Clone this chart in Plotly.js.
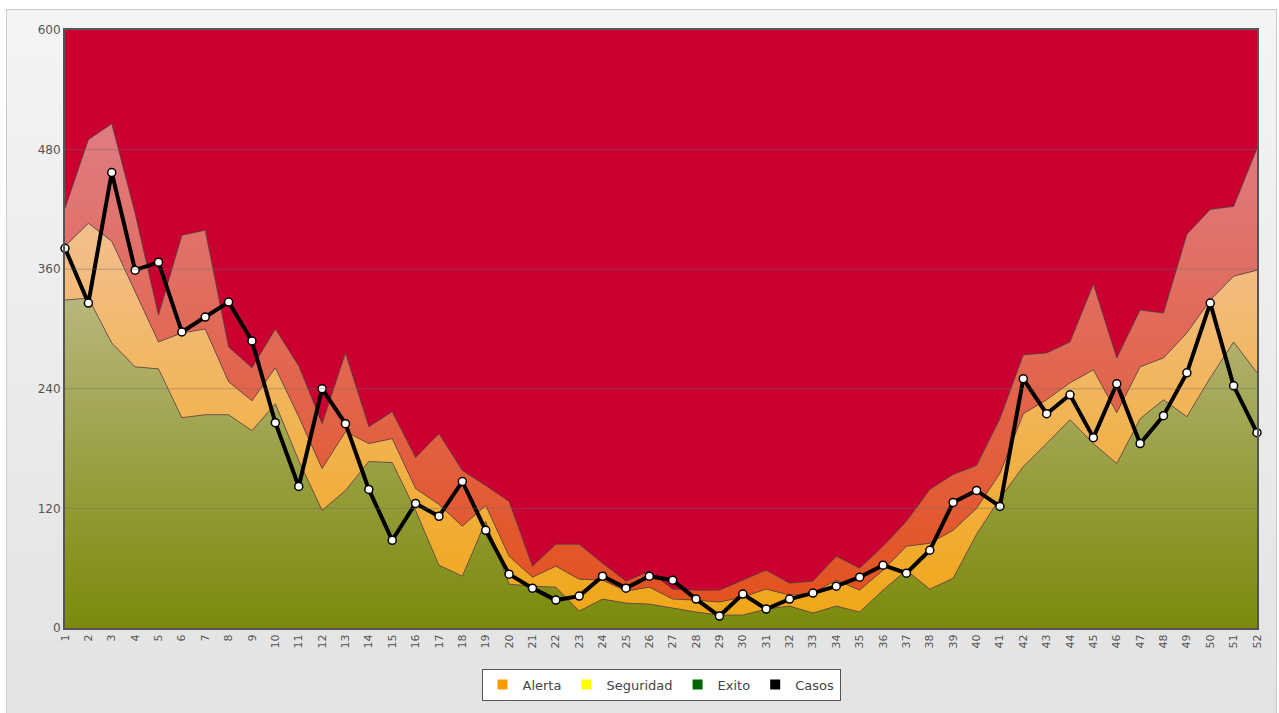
<!DOCTYPE html>
<html>
<head>
<meta charset="utf-8">
<script src="https://cdn.plot.ly/plotly-3.0.1.min.js"></script>
<style>
  html, body { margin:0; padding:0; background:#ffffff; }
  #bg { position:absolute; left:6px; top:9px; width:1271px; height:710px; border:1px solid #cccccc;
        background:linear-gradient(#f4f4f4, #e3e3e3); box-sizing:border-box; }
  #chart { position:absolute; left:0; top:0; width:1279px; height:713px; }
</style>
</head>
<body>
<div id="bg"></div>
<div id="chart"></div>
<script>
// Weeks (categories)
const weeks = [1,2,3,4,5,6,7,8,9,10,11,12,13,14,15,16,17,18,19,20,21,22,23,24,25,26,
               27,28,29,30,31,32,33,34,35,36,37,38,39,40,41,42,43,44,45,46,47,48,49,50,51,52];

// Upper limit of the "Exito" zone (green)
const exito = [329,331,286,262,260,211,214,214,198,225,168,118,138,167,166,118,63,52,107,44,
               42,41,17,29,25,24,20,16,13,13,19,22,15,22,16,38,58,39,50,94,
               130,162,185,209,185,165,210,229,212,251,287,256];

// Upper limit of the "Seguridad" zone (orange)
const seguridad = [383,406,388,337,287,296,300,247,228,261,212,160,197,185,190,140,124,102,123,72,
                   51,62,49,48,37,41,29,28,26,31,39,33,35,48,38,58,82,85,98,120,
                   155,215,229,246,259,216,262,271,296,329,353,359];

// Upper limit of the "Alerta" zone (red-orange)
const alerta = [421,490,506,416,314,394,399,282,261,300,263,205,276,202,217,171,195,158,143,127,
                62,84,84,65,47,57,39,38,38,48,58,45,47,72,60,82,107,139,154,163,
                210,274,276,287,345,271,319,316,395,420,423,481];

// Observed cases
const casos = [381,326,457,359,367,297,312,327,288,206,142,240,205,139,88,125,112,147,98,54,
               40,28,32,52,40,52,48,29,12,34,19,29,35,42,51,63,55,78,126,138,
               122,250,215,234,191,245,185,213,256,326,243,196];

const yTicks = [0,120,240,360,480,600];

const legendNames = ['Alerta','Seguridad','Exito','Casos'];
const legendColors = ['#ff9900','#ffff00','#006600','#000000'];

const edge = {color:'rgba(70,70,70,0.75)', width:1};

const traces = [
  {
    x: weeks, y: exito, type:'scatter', mode:'lines', line: edge,
    fill:'tozeroy',
    fillgradient:{type:'vertical', start:0, stop:340,
                  colorscale:[[0,'#7b8a0b'],[1,'#bbb77f']]},
    showlegend:false, hoverinfo:'skip'
  },
  {
    x: weeks, y: seguridad, type:'scatter', mode:'lines', line: edge,
    fill:'tonexty',
    fillgradient:{type:'vertical', start:0, stop:410,
                  colorscale:[[0,'#f0a615'],[1,'#f3c08f']]},
    showlegend:false, hoverinfo:'skip'
  },
  {
    x: weeks, y: alerta, type:'scatter', mode:'lines', line: edge,
    fill:'tonexty',
    fillgradient:{type:'vertical', start:0, stop:510,
                  colorscale:[[0,'#e3501a'],[1,'#e07c82']]},
    showlegend:false, hoverinfo:'skip'
  },
  {
    x: weeks, y: casos, type:'scatter', mode:'lines+markers',
    line:{color:'#000000', width:4},
    marker:{color:'#ffffff', size:8, line:{color:'#000000', width:1.5}},
    cliponaxis:false, showlegend:false
  }
];

legendNames.forEach((n,i) => {
  traces.push({
    x:[null], y:[null], type:'scatter', mode:'markers', name:n,
    marker:{symbol:'square', size:10, color:legendColors[i]},
    showlegend:true
  });
});

const gridShapes = yTicks.filter(v => v > 0 && v < 600).map(v => ({
  type:'line', xref:'paper', x0:0, x1:1, yref:'y', y0:v, y1:v,
  line:{color:'rgba(110,110,110,0.45)', width:1}, layer:'above'
}));

const layout = {
  width:1279, height:713,
  margin:{l:65, r:22, t:30, b:85},
  paper_bgcolor:'rgba(0,0,0,0)',
  plot_bgcolor:'#c90030',
  font:{family:'"DejaVu Sans", Verdana, sans-serif', color:'#555555', size:11},
  xaxis:{
    range:[1,52], tickmode:'array', tickvals:weeks, ticktext:weeks.map(String),
    tickangle:-90, tickfont:{size:11, color:'#555555'},
    showgrid:false, zeroline:false, showline:true, linecolor:'#555555', linewidth:2,
    mirror:true, ticks:'', automargin:false, fixedrange:true
  },
  yaxis:{
    range:[0,600], tickmode:'array', tickvals:yTicks,
    tickfont:{size:12, color:'#555555'},
    showgrid:false, zeroline:false, showline:true, linecolor:'#555555', linewidth:2,
    mirror:true, ticks:'', automargin:false, fixedrange:true
  },
  shapes: gridShapes,
  showlegend:true,
  legend:{
    orientation:'h', x:0.5, xanchor:'center', y:-0.068, yanchor:'top',
    traceorder:'normal',
    bgcolor:'#ffffff', bordercolor:'#555555', borderwidth:1,
    font:{size:13, color:'#444444'}, itemwidth:30,
    itemclick:false, itemdoubleclick:false
  }
};

Plotly.newPlot('chart', traces, layout, {displayModeBar:false, staticPlot:true});
</script>
</body>
</html>
